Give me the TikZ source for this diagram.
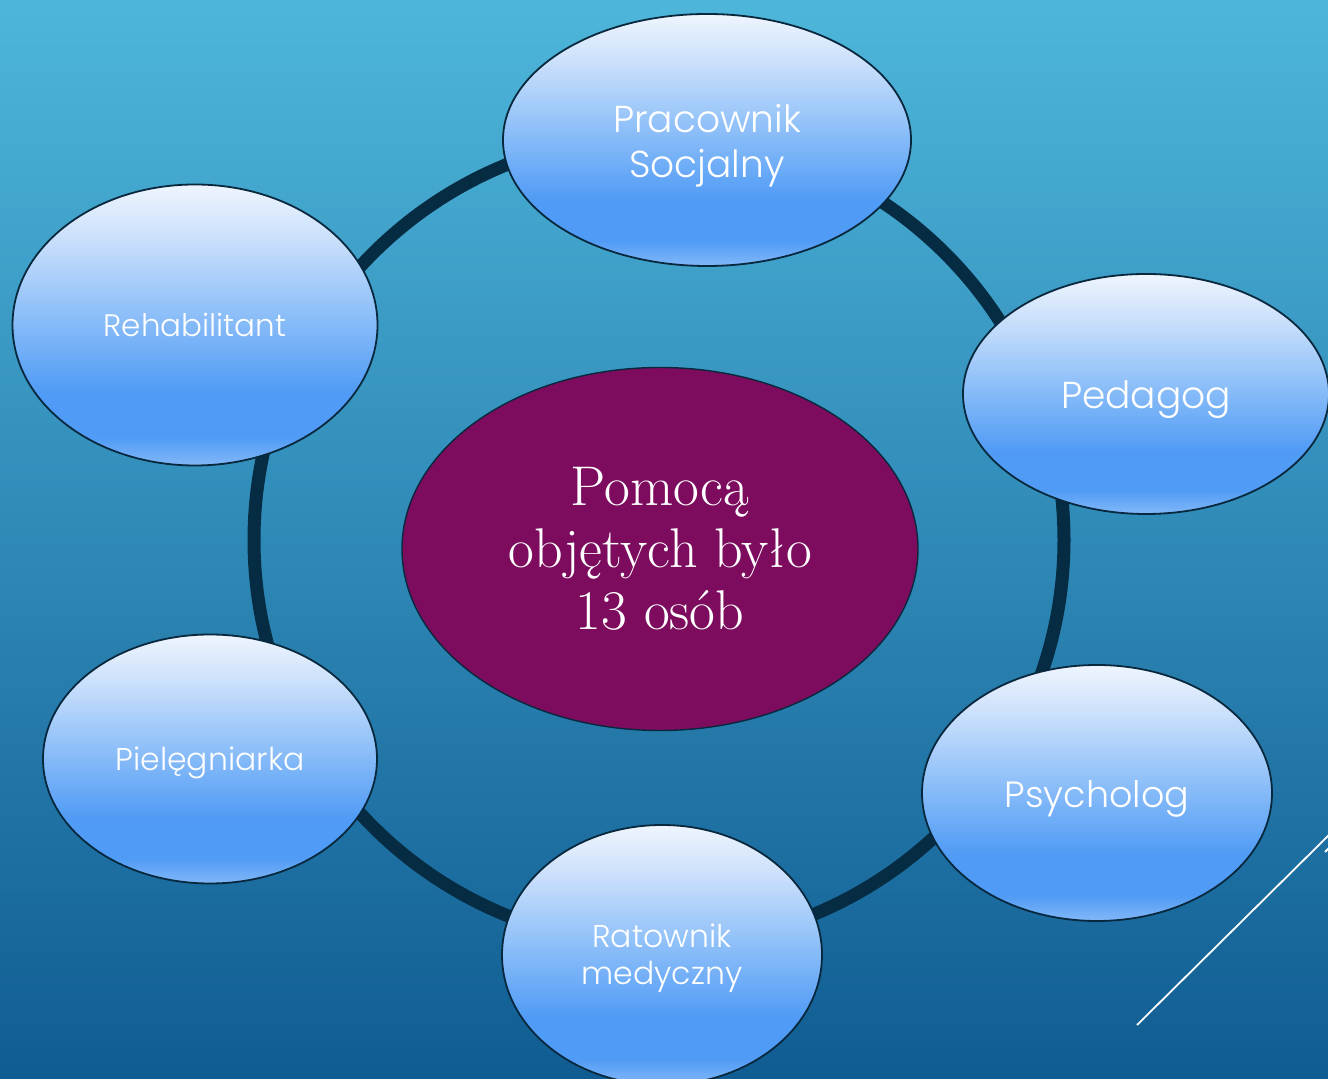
\documentclass[tikz,border=0pt]{standalone}
\usepackage{fontspec}
\newfontfamily\gfont{Poppins Light}
\usetikzlibrary{shapes.geometric}
\definecolor{bgtop}{RGB}{78,182,218}
\definecolor{bgbot}{RGB}{16,92,146}
\definecolor{ringc}{RGB}{6,44,68}
\definecolor{edgec}{RGB}{8,40,62}
\definecolor{centerc}{RGB}{125,12,95}
\definecolor{bA}{RGB}{130,184,248}
\definecolor{bB}{RGB}{80,155,245}
\definecolor{bC}{RGB}{80,155,245}
\definecolor{bD}{RGB}{150,196,249}
\definecolor{bE}{RGB}{205,225,251}
\definecolor{bF}{RGB}{238,245,254}
\pgfdeclareverticalshading{bubble}{100bp}{color(0bp)=(bA); color(25bp)=(bA); color(30bp)=(bB); color(38bp)=(bC); color(54bp)=(bD); color(66bp)=(bE); color(75bp)=(bF); color(100bp)=(bF)}
\tikzset{
  bubble/.style={ellipse, draw=edgec, line width=1.8pt, shading=bubble, inner sep=0pt},
  btext/.style={text=white, align=center, inner sep=0pt, font=\gfont},
  centre/.style={ellipse, draw=edgec, line width=1.4pt, fill=centerc, text=white, align=center, inner sep=0pt},
  ring/.style={draw=ringc, line width=13pt},
  deco/.style={draw=white, line width=1.8pt}
}
\begin{document}
\begin{tikzpicture}[x=1pt,y=1pt]
\useasboundingbox (0,0) rectangle (1328,1079);
\clip (0,0) rectangle (1328,1079);
\shade[top color=bgtop, bottom color=bgbot] (0,0) rectangle (1328,1079);
\coordinate (rc) at (659,539);
\draw[ring] (rc) circle[radius=405];
\node[centre, minimum width=516pt, minimum height=363pt, font=\fontsize{56}{62}\selectfont] (ctr) at (660,530) {Pomocą\\objętych było\\13 osób};
\node[bubble, minimum width=408pt, minimum height=252pt] (prac) at (707,939) {};
\node[bubble, minimum width=366pt, minimum height=240pt] (ped) at (1146,685) {};
\node[bubble, minimum width=350pt, minimum height=256pt] (psy) at (1097,286) {};
\node[bubble, minimum width=320pt, minimum height=260pt] (rat) at (662,124) {};
\node[bubble, minimum width=334pt, minimum height=249pt] (piel) at (210,320) {};
\node[bubble, minimum width=365pt, minimum height=281pt] (reh) at (195,754) {};
\node[btext, font=\gfont\fontsize{37.5}{45}\selectfont, yshift=-6pt] (pracT) at (prac.center) {Pracownik\\Socjalny};
\node[btext, font=\gfont\fontsize{37.5}{45}\selectfont, yshift=-6pt] (pedT) at (ped.center) {Pedagog};
\node[btext, font=\gfont\fontsize{36.5}{45}\selectfont, yshift=-6pt] (psyT) at (psy.center) {Psycholog};
\node[btext, font=\gfont\fontsize{31.5}{37}\selectfont, yshift=-3pt] (ratT) at (rat.center) {Ratownik\\medyczny};
\node[btext, font=\gfont\fontsize{31.5}{37}\selectfont, yshift=-4pt] (pielT) at (piel.center) {Pielęgniarka};
\node[btext, font=\gfont\fontsize{31}{37}\selectfont, yshift=0pt] (rehT) at (reh.center) {Rehabilitant};
\coordinate (l1a) at (1137,54);
\coordinate (l1b) at (1330,245);
\coordinate (l2a) at (1325,227);
\coordinate (l2b) at (1332,234);
\draw[deco] (l1a) -- (l1b);
\draw[deco] (l2a) -- (l2b);
\end{tikzpicture}
\end{document}
